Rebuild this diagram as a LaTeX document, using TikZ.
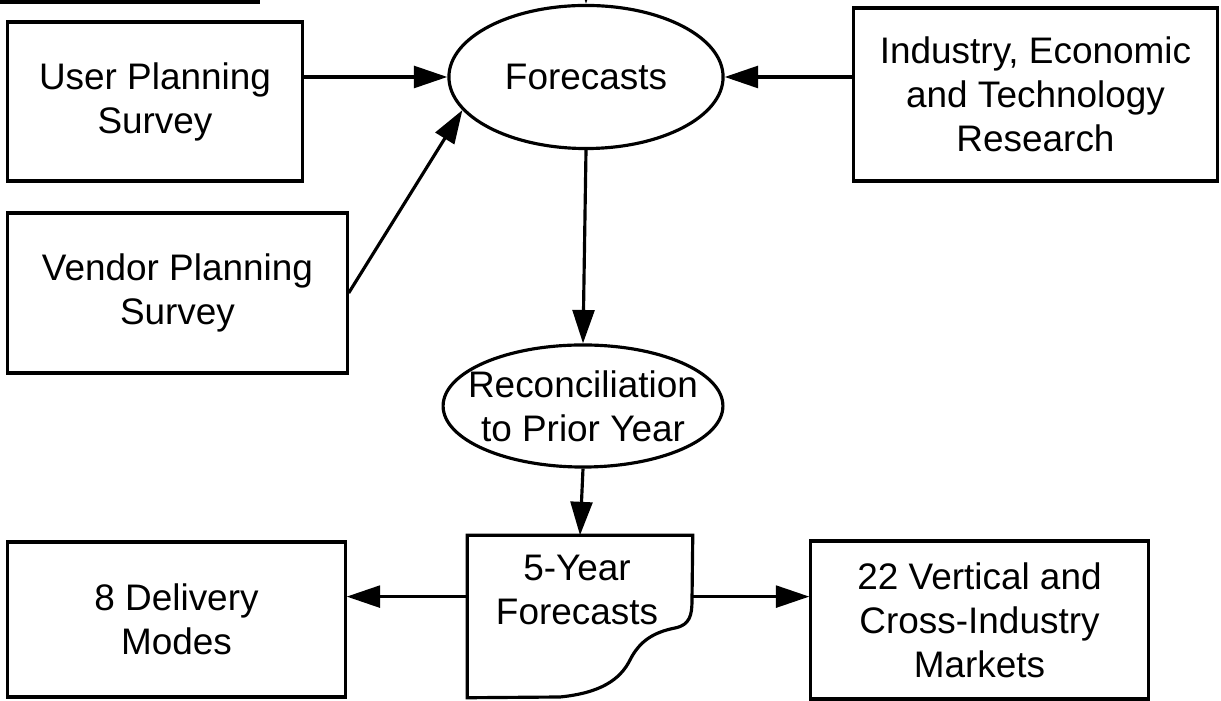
\documentclass[tikz,border=0pt]{standalone}
\usepackage{fontspec}
\setmainfont{Liberation Sans}
\usepackage{tikz}
\usetikzlibrary{positioning,backgrounds,arrows.meta,shapes.geometric}
\pgfdeclarelayer{background}
\pgfsetlayers{background,main}

\begin{document}
\begin{tikzpicture}[
  x=0.01cm, y=-0.01cm,
  every node/.style={font=\fontsize{10.5}{12.5}\selectfont},
  box/.style={draw, line width=0.9pt, align=center, inner sep=0pt},
  oval/.style={draw, ellipse, line width=0.9pt, align=center, inner sep=0pt},
  arr/.style={-{Triangle[length=9.5pt, width=6.2pt]}, line width=0.9pt},
]
\useasboundingbox (0,0) rectangle (1221,701);
\clip (0,0) rectangle (1221,701);

% ── ROW 0 ── inputs -> Forecasts  (y=0..180)
\node[box, minimum width=2.94cm, minimum height=1.59cm] at ( 155.0,  101.5) (user)     {User Planning\\Survey};
\node[oval, minimum width=2.74cm, minimum height=1.43cm] at ( 586.0,   77.0) (fcst)     {Forecasts};
\node[box, minimum width=3.63cm, minimum height=1.73cm] at (1035.5,   94.5) (industry) {Industry, Economic\\and Technology\\Research};

% ── ROW 1 ── Vendor + Reconciliation  (y=210..470)
\node[box, minimum width=3.39cm, minimum height=1.60cm] at ( 177.5,  293.0) (vendor)   {Vendor Planning\\Survey};
\node[oval, inner xsep=-0.16cm, minimum width=2.77cm, minimum height=1.22cm] at ( 583.0,  406.0) (recon) {Reconciliation\\to Prior Year};

% ── ROW 2 ── outputs  (y=540..700)
\node[box, minimum width=3.37cm, minimum height=1.55cm] at ( 176.5,  619.5) (delivery) {8 Delivery\\Modes};
\node[minimum width=2.24cm, minimum height=1.61cm, inner sep=0pt] at ( 580.0, 616.5) (fiveyr) {};
\node[align=center] at ( 577.0, 590.0) (fiveyrtxt) {5-Year\\Forecasts};
\node[box, minimum width=3.37cm, minimum height=1.58cm] at ( 979.5,  620.0) (markets)  {22 Vertical and\\Cross-Industry\\Markets};

% document sheet with torn corner
\draw[line width=0.9pt] (fiveyr.north west) -- (fiveyr.north east) -- (692,600)
  .. controls (692,615) and (690,625) .. (675,628)
  .. controls (655,632) and (640,640) .. (630,660)
  .. controls (620,680) and (600,693) .. (560,697)
  -- (fiveyr.south west) -- cycle;

% cut-off box above
\draw[line width=0.9pt] (0,2) -- (260,2);
\coordinate (above) at (586,-60);

%% ══════════════════ ARROWS ══════════════════

\begin{pgfonlayer}{background}

% inputs -> Forecasts
\draw[arr] (above)                      -- (fcst.north);
\draw[arr] (user.east |- fcst.west)     -- (fcst.west);
\draw[arr] (industry.west |- fcst.east) -- (fcst.east);
\draw[arr] (vendor.east)                -- (fcst.195);

% Forecasts -> Reconciliation -> 5-Year
\draw[arr] (fcst.south)  -- (recon.north);
\draw[arr] (recon.south) -- (fiveyr.north);

% 5-Year -> Delivery, Markets
\draw[arr] (fiveyr.170) -- (fiveyr.170 -| delivery.east);
\draw[arr] (fiveyr.10)  -- (fiveyr.10 -| markets.west);

\end{pgfonlayer}

\end{tikzpicture}
\end{document}
